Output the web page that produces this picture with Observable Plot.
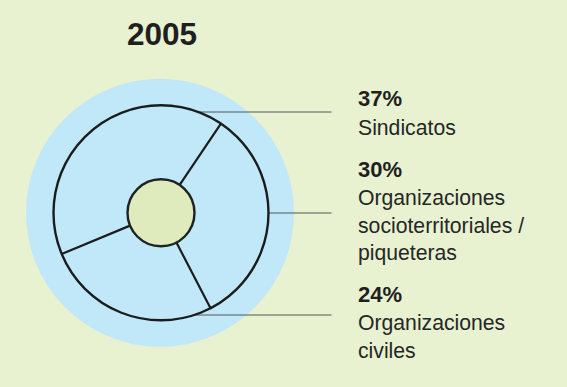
<!DOCTYPE html>
<html><head><meta charset="utf-8">
<script src="https://cdn.jsdelivr.net/npm/d3@7"></script>
<script src="https://cdn.jsdelivr.net/npm/@observablehq/plot@0.6"></script>
<style>
html,body{margin:0;padding:0;background:#e8f1d0;}
svg{display:block;}
</style></head><body><div id="chart"></div>
<script>
// ---- data ----
const title = "2005";
const categories = ["Sindicatos", "Organizaciones\nsocioterritoriales /\npiqueteras", "Organizaciones\nciviles"];
const values = [37, 30, 24];

// ---- layout (pixels) ----
const W = 567, H = 387;
const cx = 160.5, cy = 212.3;       // ring center
const bgCx = 159.5, bgR = 134;      // light blue disc
const rOut = 107.5, rIn = 33.5;
const startAngle = -112.5;          // degrees clockwise from 12 o'clock
const labelX = 357.5;
const pctBaseline = [105.5, 176, 301];
const nameGap = 28.8, lineGap = 27.4;
const leaderY = [111.5, 212.5, 314.5];
const leaderEnd = 331;
const font = "'Liberation Sans', Arial, Helvetica, sans-serif";

const total = d3.sum(values);
let acc = startAngle;
const segs = values.map((v, i) => { const a0 = acc; acc += v / total * 360; return {i, a0, a1: acc}; });
const rad = a => a * Math.PI / 180;
const px = (r, a) => cx + r * Math.sin(rad(a));
const py = (r, a) => cy - r * Math.cos(rad(a));

const leaders = leaderY.map(y => ({y, x1: cx + Math.sqrt(rOut * rOut - (y - cy) ** 2)}));

const pctRows = values.map((v, i) => ({text: v + "%", y: pctBaseline[i]}));
const nameRows = categories.flatMap((c, i) => c.split("\n").map((t, j) => ({text: t, y: pctBaseline[i] + nameGap + j * lineGap})));

const chart = Plot.plot({
  width: W, height: H, margin: 0,
  x: {domain: [0, W], range: [0, W], axis: null},
  y: {domain: [0, H], range: [0, H], axis: null},
  style: {background: "#e8f1d0", fontFamily: font},
  marks: [
    Plot.dot([0], {x: () => bgCx, y: () => cy, r: bgR, fill: "#c0e8f9", stroke: "none"}),
    Plot.link(leaders, {x1: "x1", y1: "y", x2: () => leaderEnd, y2: "y", stroke: "#4f5959", strokeWidth: 1}),
    Plot.dot([0], {x: () => cx, y: () => cy, r: rOut, fill: "none", stroke: "#1b1d1d", strokeWidth: 2.4}),
    Plot.link(segs, {x1: d => px(rIn, d.a0), y1: d => py(rIn, d.a0), x2: d => px(rOut, d.a0), y2: d => py(rOut, d.a0), stroke: "#1b1d1d", strokeWidth: 2.2}),
    Plot.dot([0], {x: () => cx, y: () => cy, r: rIn, fill: "#dfebbd", stroke: "#1f2222", strokeWidth: 2.4}),
    Plot.text([title], {x: () => cx + 1, y: () => 44.5, text: d => d, fontSize: 31.5, fontWeight: "bold", fill: "#1e1f1e", textAnchor: "middle", lineAnchor: "bottom", fontFamily: font}),
    Plot.text(pctRows, {x: () => labelX, y: "y", text: "text", fontSize: 22, fontWeight: "bold", fill: "#1e1f1e", textAnchor: "start", lineAnchor: "bottom", fontFamily: font}),
    Plot.text(nameRows, {x: () => labelX, y: "y", text: "text", fontSize: 21.2, fill: "#252727", textAnchor: "start", lineAnchor: "bottom", fontFamily: font})
  ]
});
document.getElementById("chart").appendChild(chart);
</script>
</body></html>
